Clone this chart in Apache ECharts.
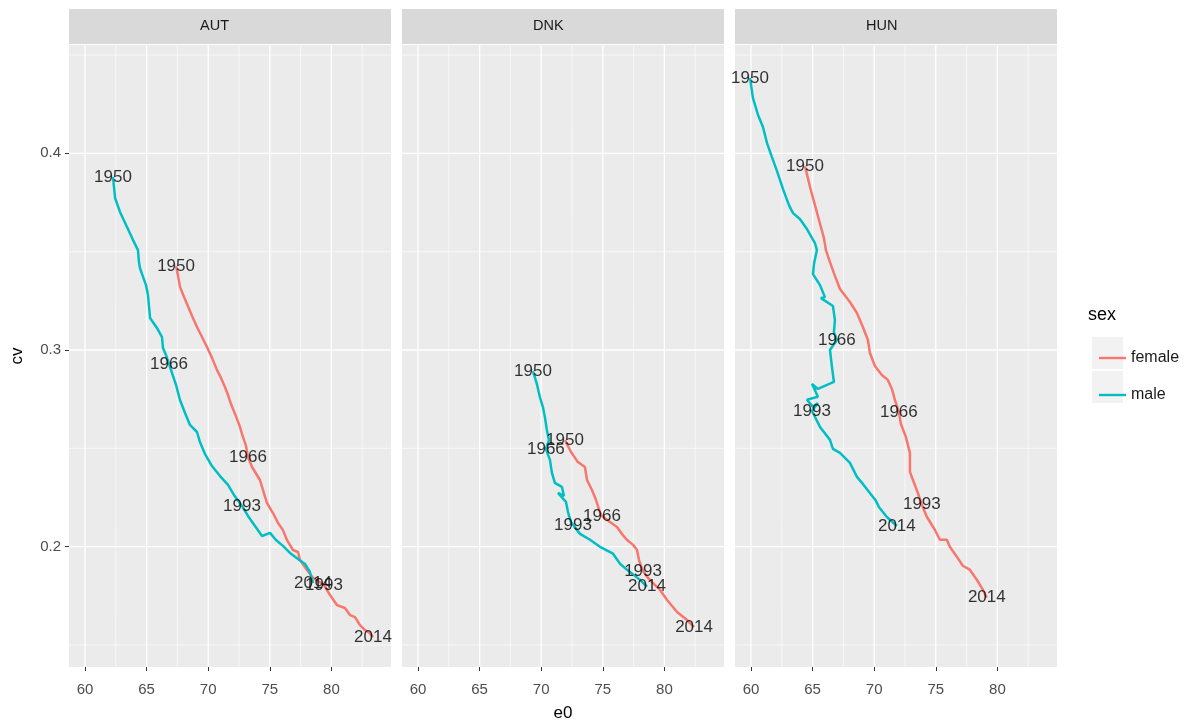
<!DOCTYPE html>
<html>
<head>
<meta charset="utf-8">
<title>cv vs e0 by country and sex</title>
<script src="https://cdn.jsdelivr.net/npm/echarts@6/dist/echarts.min.js"></script>
<style>
  html, body { margin: 0; padding: 0; background: #ffffff; }
  #chart { width: 1195px; height: 724px; }
</style>
</head>
<body>
<div id="chart"></div>
<script>
// Facet panels
const countries = ['AUT', 'DNK', 'HUN'];
const sexes = ['female', 'male'];
const sexColors = { female: '#F8766D', male: '#00BFC4' };

// Axis breaks
const xMajor = [60, 65, 70, 75, 80];
const xMinor = [62.5, 67.5, 72.5, 77.5, 82.5];
const yMajor = [0.2, 0.3, 0.4];
const yMinor = [0.15, 0.25, 0.35, 0.45];
const xRange = [58.7, 84.84];
const yRange = [0.1388, 0.4551];

// Years shown as text along each trajectory
const labelYears = [1950, 1966, 1993, 2014];

// AUT
const aut_female_e0 = [67.39, 67.55, 67.71, 68.04, 68.28, 68.69, 69.09, 69.50, 69.90, 70.31, 70.71, 71.04, 71.36, 71.61, 71.85, 72.18, 72.58, 72.74, 73.07, 73.23, 73.56, 74.20, 74.45, 74.77, 75.26, 75.67, 76.07, 76.40, 76.88, 77.29, 77.45, 78.02, 78.51, 78.91, 79.40, 79.89, 80.45, 81.10, 81.51, 81.92, 82.32, 82.73, 83.13, 83.38];
const aut_female_cv = [0.3427, 0.3377, 0.3321, 0.3270, 0.3234, 0.3173, 0.3117, 0.3066, 0.3015, 0.2960, 0.2899, 0.2858, 0.2812, 0.2771, 0.2725, 0.2675, 0.2609, 0.2573, 0.2512, 0.2456, 0.2405, 0.2339, 0.2288, 0.2222, 0.2171, 0.2120, 0.2084, 0.2033, 0.1983, 0.1973, 0.1932, 0.1881, 0.1841, 0.1825, 0.1805, 0.1754, 0.1703, 0.1688, 0.1652, 0.1642, 0.1601, 0.1576, 0.1560, 0.1540];
const aut_female_yearIdx = [0, 19, 34, 43];

const aut_male_e0 = [62.27, 62.44, 62.84, 63.41, 63.90, 64.30, 64.38, 64.46, 64.63, 64.95, 65.11, 65.28, 65.84, 66.25, 66.33, 66.57, 66.82, 67.14, 67.39, 67.71, 68.12, 68.52, 69.09, 69.33, 69.74, 70.31, 70.96, 71.61, 72.09, 72.74, 73.23, 73.80, 74.37, 75.02, 75.50, 76.07, 76.64, 77.29, 77.86, 78.26, 78.51];
const aut_male_cv = [0.3880, 0.3773, 0.3702, 0.3625, 0.3559, 0.3508, 0.3447, 0.3417, 0.3386, 0.3330, 0.3280, 0.3163, 0.3112, 0.3066, 0.3010, 0.2975, 0.2929, 0.2868, 0.2822, 0.2746, 0.2680, 0.2619, 0.2583, 0.2532, 0.2471, 0.2410, 0.2359, 0.2314, 0.2263, 0.2207, 0.2156, 0.2105, 0.2054, 0.2070, 0.2034, 0.2004, 0.1968, 0.1937, 0.1912, 0.1871, 0.1815];
const aut_male_yearIdx = [0, 16, 29, 40];

// DNK
const dnk_female_e0 = [71.93, 72.42, 72.98, 73.55, 73.72, 74.12, 74.45, 74.77, 74.93, 75.59, 76.15, 76.56, 76.97, 77.46, 77.78, 77.94, 78.10, 78.27, 78.67, 79.00, 79.65, 80.22, 81.03, 81.84, 82.41];
const dnk_female_cv = [0.2542, 0.2481, 0.2430, 0.2405, 0.2339, 0.2288, 0.2237, 0.2176, 0.2156, 0.2125, 0.2100, 0.2064, 0.2034, 0.2009, 0.1983, 0.1932, 0.1902, 0.1876, 0.1841, 0.1820, 0.1780, 0.1729, 0.1668, 0.1627, 0.1591];
const dnk_female_yearIdx = [0, 8, 17, 24];

const dnk_male_e0 = [69.33, 69.65, 69.89, 70.14, 70.30, 70.46, 70.63, 70.38, 70.71, 70.87, 71.11, 71.68, 71.85, 71.36, 72.01, 72.17, 72.41, 72.58, 73.15, 73.96, 74.77, 75.83, 76.40, 76.97, 78.02, 78.59];
const dnk_male_cv = [0.2893, 0.2827, 0.2761, 0.2710, 0.2659, 0.2593, 0.2542, 0.2497, 0.2441, 0.2375, 0.2324, 0.2304, 0.2258, 0.2273, 0.2228, 0.2177, 0.2126, 0.2111, 0.2065, 0.2035, 0.1999, 0.1964, 0.1913, 0.1882, 0.1831, 0.1796];
const dnk_male_yearIdx = [0, 7, 17, 25];

// HUN
const hun_female_e0 = [64.38, 64.79, 65.19, 65.52, 65.92, 66.08, 66.41, 66.73, 67.22, 68.03, 68.60, 69.08, 69.49, 69.65, 70.06, 70.62, 71.11, 71.44, 71.68, 72.00, 72.17, 72.57, 72.90, 72.90, 73.14, 73.54, 73.87, 74.27, 74.92, 75.33, 75.90, 76.14, 76.71, 77.19, 77.76, 78.33, 78.82, 79.14];
const hun_female_cv = [0.3935, 0.3829, 0.3737, 0.3661, 0.3569, 0.3508, 0.3447, 0.3391, 0.3310, 0.3244, 0.3188, 0.3117, 0.3051, 0.2985, 0.2919, 0.2873, 0.2848, 0.2802, 0.2746, 0.2685, 0.2624, 0.2558, 0.2477, 0.2380, 0.2340, 0.2274, 0.2213, 0.2152, 0.2086, 0.2035, 0.2035, 0.1999, 0.1949, 0.1903, 0.1883, 0.1832, 0.1781, 0.1740];
const hun_female_yearIdx = [0, 19, 26, 37];

const hun_male_e0 = [59.92, 60.16, 60.57, 60.97, 61.30, 61.70, 62.11, 62.60, 63.08, 63.41, 63.97, 64.54, 65.19, 65.35, 65.11, 65.03, 65.60, 66.00, 65.68, 66.65, 66.81, 66.73, 66.97, 66.41, 66.57, 66.73, 65.43, 64.95, 65.43, 64.54, 65.03, 65.43, 64.95, 65.60, 66.41, 66.65, 67.22, 68.03, 68.60, 69.08, 69.65, 70.14, 70.38, 71.03, 71.84];
const hun_male_cv = [0.4383, 0.4281, 0.4195, 0.4134, 0.4052, 0.3981, 0.3910, 0.3818, 0.3737, 0.3696, 0.3666, 0.3615, 0.3544, 0.3508, 0.3437, 0.3386, 0.3330, 0.3269, 0.3264, 0.3224, 0.3152, 0.3091, 0.3051, 0.3000, 0.2914, 0.2838, 0.2802, 0.2828, 0.2762, 0.2747, 0.2711, 0.2731, 0.2690, 0.2609, 0.2543, 0.2497, 0.2477, 0.2426, 0.2355, 0.2319, 0.2273, 0.2233, 0.2202, 0.2151, 0.2105];
const hun_male_yearIdx = [0, 22, 32, 44];

const seriesData = {
  AUT: {
    female: { e0: aut_female_e0, cv: aut_female_cv, idx: aut_female_yearIdx },
    male: { e0: aut_male_e0, cv: aut_male_cv, idx: aut_male_yearIdx }
  },
  DNK: {
    female: { e0: dnk_female_e0, cv: dnk_female_cv, idx: dnk_female_yearIdx },
    male: { e0: dnk_male_e0, cv: dnk_male_cv, idx: dnk_male_yearIdx }
  },
  HUN: {
    female: { e0: hun_female_e0, cv: hun_female_cv, idx: hun_female_yearIdx },
    male: { e0: hun_male_e0, cv: hun_male_cv, idx: hun_male_yearIdx }
  }
};

const FONT = 'Liberation Sans, Arial, Helvetica, sans-serif';
const panelLeft = [69, 402, 735];
const panelWidth = 322;
const panelTop = 45;
const panelHeight = 622;

// white major/minor grid lines drawn inside each panel
const gridLineData = []
  .concat(xMajor.map(v => [v, 0, 1]))
  .concat(xMinor.map(v => [v, 0, 0]))
  .concat(yMajor.map(v => [v, 1, 1]))
  .concat(yMinor.map(v => [v, 1, 0]));

function renderGridLine(params, api) {
  const cs = params.coordSys;
  const v = api.value(0);
  const dir = api.value(1);
  const major = api.value(2) === 1;
  let shape;
  if (dir === 0) {
    const x = api.coord([v, yRange[0]])[0];
    shape = { x1: x, y1: cs.y, x2: x, y2: cs.y + cs.height };
  } else {
    const y = api.coord([xRange[0], v])[1];
    shape = { x1: cs.x, y1: y, x2: cs.x + cs.width, y2: y };
  }
  return {
    type: 'line',
    shape: shape,
    style: { stroke: '#FFFFFF', lineWidth: major ? 1.3 : 0.6 },
    silent: true
  };
}

const grids = [], xAxes = [], yAxes = [], series = [], graphics = [];

countries.forEach((c, i) => {
  grids.push({
    left: panelLeft[i], top: panelTop, width: panelWidth, height: panelHeight,
    show: true, backgroundColor: '#EBEBEB', borderWidth: 0,
    containLabel: false, outerBoundsMode: 'none'
  });
  xAxes.push({
    type: 'value', gridIndex: i, min: xRange[0], max: xRange[1],
    axisLine: { show: false },
    splitLine: { show: false },
    axisTick: { show: true, customValues: xMajor, length: 4, lineStyle: { color: '#333333', width: 1 } },
    axisLabel: { show: true, customValues: xMajor, color: '#4D4D4D', fontSize: 15, margin: 15, fontFamily: FONT },
    name: i === 1 ? 'e0' : '',
    nameLocation: 'middle', nameGap: 38,
    nameTextStyle: { color: '#000000', fontSize: 17, fontFamily: FONT }
  });
  yAxes.push({
    type: 'value', gridIndex: i, min: yRange[0], max: yRange[1],
    axisLine: { show: false },
    splitLine: { show: false },
    axisTick: { show: i === 0, customValues: yMajor, length: 4, lineStyle: { color: '#333333', width: 1 } },
    axisLabel: {
      show: i === 0, customValues: yMajor, color: '#4D4D4D', fontSize: 15, margin: 8, fontFamily: FONT,
      formatter: v => v.toFixed(1)
    },
    name: i === 0 ? 'cv' : '',
    nameLocation: 'middle', nameGap: 43,
    nameTextStyle: { color: '#000000', fontSize: 17, fontFamily: FONT }
  });

  series.push({
    type: 'custom', xAxisIndex: i, yAxisIndex: i, z: 1, silent: true,
    renderItem: renderGridLine, data: gridLineData, tooltip: { show: false }
  });

  const labelPoints = [];
  sexes.forEach(s => {
    const d = seriesData[c][s];
    series.push({
      name: s, type: 'line', xAxisIndex: i, yAxisIndex: i, z: 3,
      showSymbol: false, symbol: 'none', smooth: false,
      lineStyle: { color: sexColors[s], width: 2.5 },
      itemStyle: { color: sexColors[s] },
      data: d.e0.map((x, k) => [x, d.cv[k]])
    });
    d.idx.forEach((k, j) => labelPoints.push([d.e0[k], d.cv[k], labelYears[j]]));
  });

  series.push({
    type: 'scatter', xAxisIndex: i, yAxisIndex: i, z: 5, silent: true,
    symbolSize: 0,
    label: {
      show: true, position: 'inside', color: '#000000', fontSize: 17, fontFamily: FONT,
      formatter: p => String(p.value[2])
    },
    data: labelPoints
  });

  // facet strip
  graphics.push({
    type: 'rect', left: panelLeft[i], top: 9,
    shape: { width: panelWidth, height: 35 },
    style: { fill: '#D9D9D9' }, silent: true
  });
  graphics.push({
    type: 'text', left: panelLeft[i] + panelWidth / 2 - 30, top: 18,
    style: { text: c, width: 60, align: 'center', fill: '#1A1A1A', fontSize: 14.5, fontFamily: FONT, x: 30 },
    silent: true
  });
});

// legend title and key backgrounds
graphics.push({
  type: 'text', left: 1088, top: 306,
  style: { text: 'sex', fill: '#000000', fontSize: 18, fontFamily: FONT }, silent: true
});
graphics.push({ type: 'rect', left: 1092, top: 337, shape: { width: 31, height: 32 }, style: { fill: '#F2F2F2' }, silent: true });
graphics.push({ type: 'rect', left: 1092, top: 371, shape: { width: 31, height: 32 }, style: { fill: '#F2F2F2' }, silent: true });

const chart = echarts.init(document.getElementById('chart'), null, { renderer: 'canvas' });
chart.setOption({
  animation: false,
  backgroundColor: '#FFFFFF',
  textStyle: { fontFamily: FONT },
  grid: grids,
  xAxis: xAxes,
  yAxis: yAxes,
  legend: {
    data: sexes, orient: 'vertical', left: 1094, top: 345,
    itemWidth: 27, itemHeight: 14, itemGap: 21,
    icon: 'path://M0,6 L27,6 L27,8.4 L0,8.4 Z',
    textStyle: { color: '#1A1A1A', fontSize: 16, fontFamily: FONT, padding: [0, 0, 0, 0] },
    selectedMode: false
  },
  graphic: graphics,
  series: series
});
</script>
</body>
</html>
